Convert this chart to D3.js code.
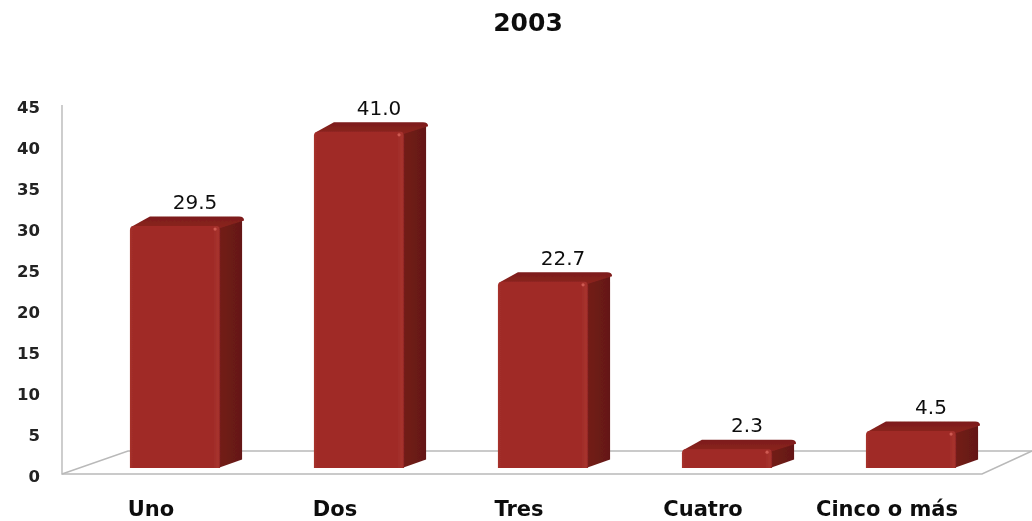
<!DOCTYPE html>
<html><head><meta charset="utf-8">
<style>html,body{margin:0;padding:0;background:#fff}svg{display:block}text{font-family:"DejaVu Sans",sans-serif;fill:#111}</style>
<script src="https://cdn.jsdelivr.net/npm/d3@7/dist/d3.min.js"></script>
</head><body><svg id="c" width="1032" height="521"></svg>
<script>
const categories=["Uno","Dos","Tres","Cuatro","Cinco o más"];
const values=[29.5,41.0,22.7,2.3,4.5];
const valueLabels=["29.5","41.0","22.7","2.3","4.5"];
const yTicks=[0,5,10,15,20,25,30,35,40,45];
const title="2003";

const W=1032,H=521;
const svg=d3.select("#c").attr("viewBox",[0,0,W,H]);
const y=d3.scaleLinear().domain([0,45]).range([474,105]);
const x=d3.scaleBand().domain(categories).range([83,1003]).paddingInner(0.51).paddingOuter(0.255);
const depthX=22,depthY=9.5,baseShift=6,barW=x.bandwidth();

const defs=svg.append("defs");
const grad=(id,stops,v)=>{const g=defs.append("linearGradient").attr("id",id).attr("x1",0).attr("y1",0).attr("x2",v?0:1).attr("y2",v?1:0);
 stops.forEach(s=>g.append("stop").attr("offset",s[0]).attr("stop-color",s[1]));};
grad("front",[[0,"#a8322c"],[0.03,"#a02c28"],[0.93,"#a02c28"],[0.98,"#a8332e"],[1,"#8e2421"]]);
grad("side",[[0,"#741d19"],[1,"#641815"]]);
grad("topface",[[0,"#7c1d1a"],[1,"#8c2320"]],true);
defs.append("filter").attr("id","soft").attr("x","-5%").attr("y","-5%").attr("width","110%").attr("height","110%")
 .append("feGaussianBlur").attr("stdDeviation",0.7);

const root=svg.append("g").attr("filter","url(#soft)");

// Floor and wall
const fl=root.append("g").attr("stroke","#b9b9b9").attr("fill","none").attr("stroke-width",1.4);
fl.append("path").attr("d",`M62 ${y(45)} V${y(0)} H982 L1032 451`);
fl.append("path").attr("d",`M62 ${y(0)} L128 451 H1032`);

// Axis labels through d3 axis
const ax=d3.axisLeft(y).tickValues(yTicks).tickSize(0).tickPadding(0);
const axG=root.append("g").attr("transform","translate(40,2)").call(ax);
axG.select(".domain").remove();
axG.selectAll("text").attr("font-size",16.5).attr("font-weight",600).attr("font-family",'"DejaVu Sans",sans-serif').style("fill","#222");

// Bars
const bars=root.append("g").selectAll("g").data(categories).join("g");
const bx=d=>x(d), barTop=(d,i)=>y(values[i])-baseShift, base=y(0)-baseShift;
bars.append("path").attr("fill","url(#side)")
 .attr("d",(d,i)=>{const l=bx(d)+barW-2,t=barTop(d,i);
   return `M${l} ${t} L${l+depthX-4} ${t-depthY+1} Q${l+depthX+2} ${t-depthY} ${l+depthX+2} ${t-depthY+5} L${l+depthX+2} ${base-depthY+1} L${l} ${base} Z`;});
bars.append("path").attr("fill","url(#topface)")
 .attr("d",(d,i)=>{const l=bx(d),t=barTop(d,i);
   return `M${l+1} ${t+1} L${l+depthX-2} ${t-depthY} H${l+barW+depthX-3} Q${l+barW+depthX+2} ${t-depthY} ${l+barW+depthX+2} ${t-depthY+4} L${l+barW} ${t+2} Z`;});
bars.append("path").attr("fill","url(#front)")
 .attr("d",(d,i)=>{const l=bx(d),r=l+barW,t=barTop(d,i);
   return `M${l} ${base} V${t+4} Q${l} ${t} ${l+4} ${t} H${r-4} Q${r} ${t} ${r} ${t+4} V${base} Z`;});
bars.append("circle").attr("cx",d=>bx(d)+barW-5).attr("cy",(d,i)=>barTop(d,i)+3).attr("r",1.6).attr("fill","#cf5a52");

// Value labels
bars.append("text").attr("x",d=>bx(d)+barW/2+20).attr("y",(d,i)=>barTop(d,i)-17)
 .attr("text-anchor","middle").attr("font-size",20).text((d,i)=>valueLabels[i]);

// Category labels
root.append("g").selectAll("text").data(categories).join("text")
 .attr("x",d=>bx(d)+barW/2-24).attr("y",516).attr("text-anchor","middle")
 .attr("font-size",21).attr("font-weight",700).text(d=>d);

root.append("text").attr("x",528).attr("y",31).attr("text-anchor","middle").attr("font-size",25).attr("font-weight",700).text(title);
</script></body></html>
